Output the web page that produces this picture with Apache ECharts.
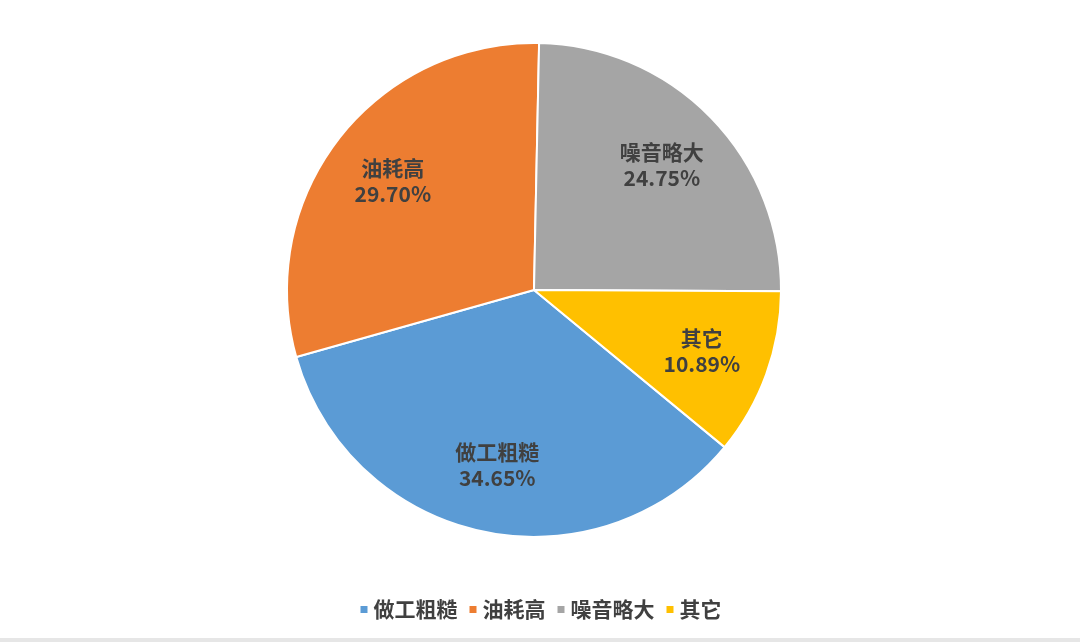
<!DOCTYPE html>
<html>
<head>
<meta charset="utf-8">
<script src="https://cdn.jsdelivr.net/npm/echarts@6/dist/echarts.min.js"></script>
<style>
  html, body { margin: 0; padding: 0; background: #fff; }
  #chart { width: 1080px; height: 642px; }
</style>
</head>
<body>
<div id="chart"></div>
<script>
const categories = ['做工粗糙', '油耗高', '噪音略大', '其它'];
const shares = [34.65, 29.70, 24.75, 10.89];
const colors = ['#5B9BD5', '#ED7D31', '#A5A5A5', '#FFC000'];

const chart = echarts.init(document.getElementById('chart'));

const pieData = categories.map((name, i) => ({ name: name, value: shares[i] }));
const font = '"Noto Sans CJK SC", "Noto Sans", sans-serif';

const option = {
    color: colors,
    animation: false,
    legend: {
        data: categories,
        bottom: 17,
        left: 'center',
        icon: 'rect',
        itemWidth: 9,
        itemHeight: 9,
        itemGap: 10,
        textStyle: { fontSize: 21, color: '#404040', fontFamily: font, fontWeight: 'bold' }
    },
    graphic: [{
        type: 'rect',
        shape: { x: 0, y: 638, width: 1080, height: 4 },
        style: { fill: '#e6e6e6' },
        silent: true
    }],
    series: [
        {
            type: 'pie',
            center: [534, 290],
            radius: [0, 247],
            startAngle: -39.5,
            clockwise: true,
            data: pieData,
            label: { show: false },
            labelLine: { show: false },
            itemStyle: { borderColor: '#fff', borderWidth: 2 }
        },
        {
            // transparent ring that only carries the labels further out
            type: 'pie',
            center: [534, 290],
            radius: [104, 247],
            startAngle: -39.5,
            clockwise: true,
            silent: true,
            data: pieData,
            itemStyle: { color: 'rgba(0,0,0,0)' },
            labelLine: { show: false },
            label: {
                show: true,
                position: 'inside',
                formatter: p => p.name + '\n' + p.value.toFixed(2) + '%',
                fontSize: 21,
                lineHeight: 26,
                fontWeight: 'bold',
                color: '#404040',
                fontFamily: font
            }
        }
    ]
};

chart.setOption(option);

window.addEventListener('resize', () => {
    chart.resize();
});
</script>
</body>
</html>
